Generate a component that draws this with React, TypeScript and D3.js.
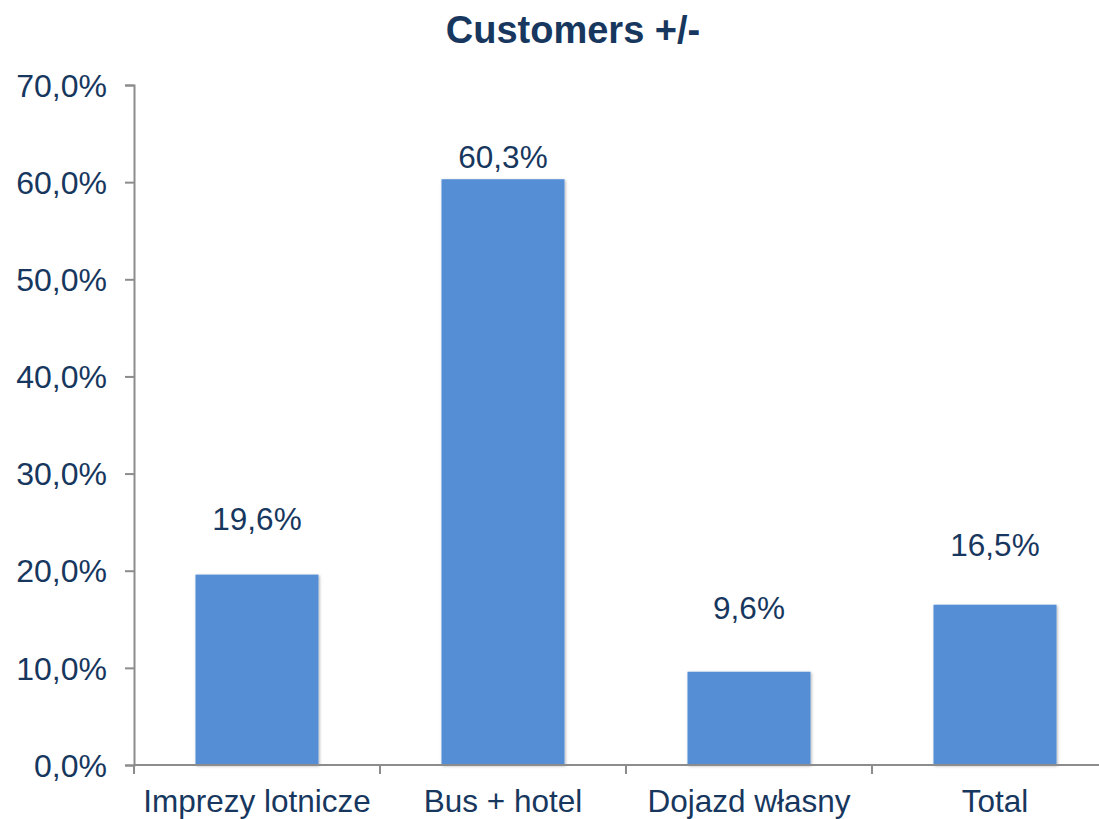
import React, { useEffect, useRef } from "react";
import * as d3 from "d3";

const categories = ["Imprezy lotnicze", "Bus + hotel", "Dojazd własny", "Total"];
const values = [19.6, 60.3, 9.6, 16.5];
const yTicks = [0, 10, 20, 30, 40, 50, 60, 70];
// how far each value label sits above its bar (px)
const labelLift = [45, 11, 53, 49];

const textColor = "#17375E";
const barColor = "#558ED5";
const axisColor = "#8C8C8C";
const font = "Liberation Sans, Arial, sans-serif";

function BarChart({ width = 1099, height = 819 }) {
  const svgRef = useRef<SVGSVGElement>(null);

  useEffect(() => {
    const svg = d3.select(svgRef.current);
    svg.selectAll("*").remove();

    const left = 134;
    const right = 1118;
    const top = 85;
    const bottom = 765;

    const fmt = (v: number) => v.toFixed(1).replace(".", ",") + "%";

    const x = d3.scaleBand().domain(categories).range([left, right]).paddingInner(0.5).paddingOuter(0.25);
    const y = d3.scaleLinear().domain([0, 70]).range([bottom, top]);

    const defs = svg.append("defs");
    const f = defs.append("filter").attr("id", "shadow").attr("x", "-10%").attr("y", "-10%").attr("width", "120%").attr("height", "120%");
    f.append("feDropShadow").attr("dx", 1).attr("dy", 1).attr("stdDeviation", 1.5).attr("flood-color", "#000").attr("flood-opacity", 0.3);

    // title
    svg
      .append("text")
      .attr("x", 573)
      .attr("y", 43)
      .attr("text-anchor", "middle")
      .attr("font-family", font)
      .attr("font-weight", "bold")
      .attr("font-size", 38)
      .attr("fill", textColor)
      .text("Customers +/-");

    // bars
    svg
      .selectAll(".bar")
      .data(values)
      .join("rect")
      .attr("class", "bar")
      .attr("x", (d, i) => x(categories[i])!)
      .attr("y", (d) => y(d))
      .attr("width", x.bandwidth())
      .attr("height", (d) => bottom - y(d))
      .attr("fill", barColor)
      .attr("filter", "url(#shadow)");

    // value labels
    svg
      .selectAll(".lbl")
      .data(values)
      .join("text")
      .attr("class", "lbl")
      .attr("x", (d, i) => x(categories[i])! + x.bandwidth() / 2)
      .attr("y", (d, i) => y(d) - labelLift[i])
      .attr("text-anchor", "middle")
      .attr("font-family", font)
      .attr("font-size", 31.5)
      .attr("fill", textColor)
      .text((d) => fmt(d));

    // y axis
    const yAxis = d3
      .axisLeft(y)
      .tickValues(yTicks)
      .tickSize(9)
      .tickPadding(18)
      .tickFormat((d) => fmt(d as number));
    const yg = svg.append("g").attr("transform", `translate(${left},0)`).call(yAxis);
    yg.select(".domain").attr("stroke", axisColor).attr("stroke-width", 2);
    yg.selectAll(".tick line").attr("stroke", axisColor).attr("stroke-width", 2);
    yg.selectAll(".tick text")
      .attr("font-family", font)
      .attr("font-size", 32)
      .attr("fill", textColor)
      .attr("dy", "0.35em");

    // x axis line + boundary ticks
    const xg = svg.append("g");
    xg.append("line")
      .attr("x1", left)
      .attr("x2", right)
      .attr("y1", bottom)
      .attr("y2", bottom)
      .attr("stroke", axisColor)
      .attr("stroke-width", 2);
    const step = x.step();
    const bounds = d3.range(categories.length + 1).map((i) => left + i * step);
    xg.selectAll(".xt")
      .data(bounds)
      .join("line")
      .attr("class", "xt")
      .attr("x1", (d) => d)
      .attr("x2", (d) => d)
      .attr("y1", bottom)
      .attr("y2", bottom + 9)
      .attr("stroke", axisColor)
      .attr("stroke-width", 2);
    xg.selectAll(".xl")
      .data(categories)
      .join("text")
      .attr("class", "xl")
      .attr("x", (d) => x(d)! + x.bandwidth() / 2)
      .attr("y", 812)
      .attr("text-anchor", "middle")
      .attr("font-family", font)
      .attr("font-size", 31.5)
      .attr("fill", textColor)
      .text((d) => d);
  }, []);

  return (
    <svg
      ref={svgRef}
      width={width}
      height={height}
      style={{ position: "absolute", left: 0, top: 0, display: "block" }}
    ></svg>
  );
}

export default function App() {
  return <BarChart />;
}
